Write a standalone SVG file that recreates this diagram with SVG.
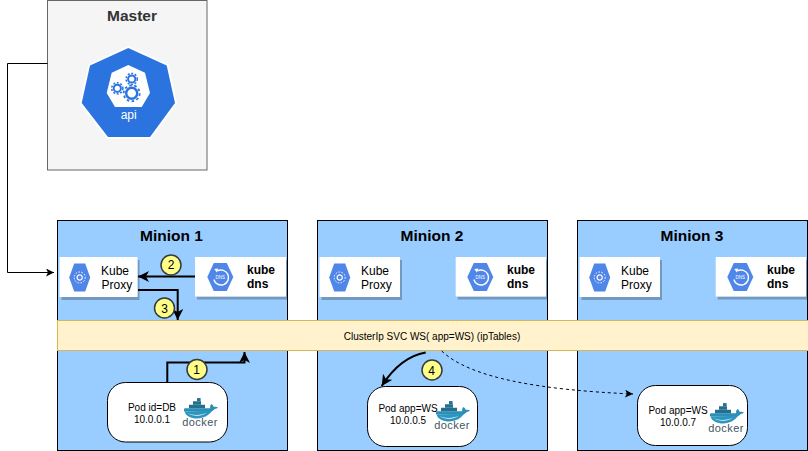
<svg xmlns="http://www.w3.org/2000/svg" width="808" height="451" viewBox="0 0 808 451">
<style>
text{font-family:"Liberation Sans",Arial,sans-serif;fill:#000;text-anchor:middle}
.minion{fill:#99ccff;stroke:#000;stroke-width:1}
.title{font-size:15.5px;font-weight:bold}
.card{fill:#fff;filter:url(#sh)}
.lbl{font-size:12px;text-anchor:start}
.blbl{font-size:12px;font-weight:bold;text-anchor:start}
.pod{fill:#fff;stroke:#000;stroke-width:1}
.small{font-size:10px}
.hex{fill:#4f86e8}
.badge{fill:#ffff88;stroke:#36393d;stroke-width:1.5}
.badge-t{font-size:12px}
.conn{fill:none;stroke:#000}
.thick{stroke-width:2}
.dt{font-size:11px;fill:#41565f;letter-spacing:.45px}
</style>
<defs>
<filter id="sh" x="-10%" y="-10%" width="125%" height="135%"><feDropShadow dx="2" dy="3" stdDeviation="0.5" flood-color="#000" flood-opacity="0.25"/></filter>
<marker id="a" markerUnits="userSpaceOnUse" markerWidth="14" markerHeight="14" refX="11" refY="5.500" orient="auto"><path d="M0 0L11 5.500L0 11L3 5.500Z" fill="#000"/></marker>
<marker id="b" markerUnits="userSpaceOnUse" markerWidth="10" markerHeight="10" refX="8" refY="4" orient="auto"><path d="M0 0L8 4L0 8L2 4Z" fill="#000"/></marker>
<g id="hexp"><polygon class="hex" points="-10.500,0 -5.500,-14 5.500,-14 10.500,0 5.500,14 -5.500,14"/><circle r="2.600" fill="none" stroke="#fff" stroke-width="1.200"/><circle r="5.500" fill="none" stroke="#fff" stroke-width="1" stroke-dasharray="1.500 1.500"/></g>
<g id="hexd"><polygon class="hex" points="-13,0 -6.500,-14 6.500,-14 13,0 6.500,14 -6.500,14"/><path d="M-3.500 -6.500A7.500 7.500 0 1 1 -7 2" fill="none" stroke="#fff" stroke-width="1.400" transform="translate(.5 .5)"/><path d="M-6 -8L-2 -8.500L-3.500 -4.500Z" fill="#fff"/><text y="2" font-size="4.500" style="fill:#fff">DNS</text></g>
<g id="whale" transform="scale(.8 .7)">
<path d="M-16 2H17C19 2 21.500 0 22 -1.500C24 -1.500 25.500 -2.500 26 -4C24.500 -5 22.500 -5 21 -4.300C20.500 -6.500 19 -8 18 -8.500C16.500 -7 16 -4.500 16.500 -2.500H-15.500C-16.500 -1 -16.500 1 -16 2Z" fill="#2b8fb8"/>
<path d="M-15.500 2C-14 9 -7 12 0 12C9 12 15 7 19 1Z" fill="#2d96be"/>
<path d="M-12 4C-6 8 4 8 12 4C6 10 -6 10 -12 4Z" fill="#bfe3ef"/>
<rect x="-10" y="-7.500" width="20" height="5" fill="#246f8f"/>
<rect x="-5" y="-12.500" width="10" height="5" fill="#246f8f"/>
<rect x="0" y="-17" width="4.500" height="4.500" fill="#246f8f"/>
</g>
</defs>

<g id="master">
<rect x="47.500" y="0.500" width="159.500" height="169.500" fill="#f5f5f5" stroke="#666"/>
<text class="title" x="132" y="21" style="fill:#333">Master</text>
<polygon points="128.300,46 168.500,64.500 177,103.500 151,139 107,139 79.500,103.500 88.500,64.500" fill="#fff"/>
<polygon points="128.300,48 166.700,65.500 175,103 150,137 108,137 81.700,103 90,65.500" fill="#2b74e0"/>
<polygon points="128.300,65 145,72.700 150,93 141.700,107 115,107 106.700,93 111.700,72.700" fill="#fff"/>
<g fill="none" stroke="#2b74e0">
<circle cx="131.700" cy="79" r="3.600" stroke-width="2"/><circle cx="131.700" cy="79" r="5.600" stroke-width="1.500" stroke-dasharray="2 1.600"/>
<circle cx="117.300" cy="88.300" r="3.600" stroke-width="2"/><circle cx="117.300" cy="88.300" r="5.600" stroke-width="1.500" stroke-dasharray="2 1.600"/>
<circle cx="131.700" cy="93.300" r="5.500" stroke-width="2.400"/><circle cx="131.700" cy="93.300" r="8" stroke-width="1.800" stroke-dasharray="2.600 2.400"/>
</g>
<text x="128.700" y="119" font-size="12" style="fill:#fff">api</text>
</g>

<g id="minion1">
<rect class="minion" x="57.500" y="220.500" width="230" height="230"/>
<text class="title" x="171.500" y="241">Minion 1</text>
</g>
<g id="minion2">
<rect class="minion" x="317.500" y="220.500" width="230" height="230"/>
<text class="title" x="432" y="241">Minion 2</text>
</g>
<g id="minion3">
<rect class="minion" x="577.500" y="220.500" width="230" height="230"/>
<text class="title" x="692" y="241">Minion 3</text>
</g>

<g id="proxy1"><rect class="card" x="59.500" y="257" width="78" height="40"/><use href="#hexp" x="79.700" y="277.500"/><text class="lbl"><tspan x="101" y="275">Kube</tspan><tspan x="101.500" y="289">Proxy</tspan></text></g>
<g id="dns1"><rect class="card" x="195" y="257" width="91" height="39.500"/><use href="#hexd" x="220.300" y="277"/><text class="blbl"><tspan x="247" y="274">kube</tspan><tspan x="247" y="288">dns</tspan></text></g>
<g id="proxy2"><rect class="card" x="319.500" y="257" width="80.500" height="40"/><use href="#hexp" x="339.700" y="277.500"/><text class="lbl"><tspan x="361" y="275">Kube</tspan><tspan x="361" y="289">Proxy</tspan></text></g>
<g id="dns2"><rect class="card" x="455.700" y="257" width="90.300" height="39.500"/><use href="#hexd" x="480.300" y="277"/><text class="blbl"><tspan x="507" y="274">kube</tspan><tspan x="507" y="288">dns</tspan></text></g>
<g id="proxy3"><rect class="card" x="579.500" y="257" width="80.500" height="40"/><use href="#hexp" x="599.700" y="277.500"/><text class="lbl"><tspan x="621" y="275">Kube</tspan><tspan x="621" y="289">Proxy</tspan></text></g>
<g id="dns3"><rect class="card" x="715.700" y="257" width="90.300" height="39.500"/><use href="#hexd" x="740.300" y="277"/><text class="blbl"><tspan x="767" y="274">kube</tspan><tspan x="767" y="288">dns</tspan></text></g>

<g id="clusterip">
<rect x="57.500" y="320.500" width="751" height="30" fill="#fff2cc" stroke="#d6b656"/>
<text x="432" y="339.500" font-size="10">ClusterIp SVC WS( app=WS) (ipTables)</text>
</g>

<g id="pod1"><rect class="pod" x="107.500" y="382.500" width="120" height="59.500" rx="18"/><text class="small"><tspan x="152" y="411">Pod id=DB</tspan><tspan x="152" y="423">10.0.0.1</tspan></text><use href="#whale" x="197" y="410"/><text class="dt" x="200" y="426">docker</text></g>
<g id="pod2"><rect class="pod" x="367.500" y="386.500" width="110" height="60" rx="18"/><text class="small"><tspan x="408" y="412">Pod app=WS</tspan><tspan x="408" y="424">10.0.0.5</tspan></text><use href="#whale" x="449" y="413"/><text class="dt" x="452" y="429">docker</text></g>
<g id="pod3"><rect class="pod" x="637.500" y="385.500" width="110" height="60" rx="18"/><text class="small"><tspan x="678" y="414">Pod app=WS</tspan><tspan x="678" y="426">10.0.0.7</tspan></text><use href="#whale" x="723" y="415"/><text class="dt" x="726" y="431.500">docker</text></g>

<g id="connectors">
<path class="conn" d="M47.500 63.500H7.500V272.500H54" marker-end="url(#b)"/>
<path class="conn thick" d="M195 276.500H138" marker-end="url(#a)"/>
<path class="conn thick" d="M138 290H177.700V320" marker-end="url(#a)"/>
<path class="conn thick" d="M167.300 382V362.500H244.500V352" marker-end="url(#a)"/>
<path class="conn thick" d="M425.700 352.500C405 356 392 370 381.700 386" marker-end="url(#a)"/>
<path class="conn" stroke-dasharray="3 3" d="M441.700 351C470 378 540 390 633 394" marker-end="url(#b)"/>
</g>

<g id="badge1"><circle class="badge" cx="197" cy="369.500" r="10"/><text class="badge-t" x="196.500" y="374">1</text></g>
<g id="badge2"><circle class="badge" cx="171" cy="265" r="10"/><text class="badge-t" x="171" y="269">2</text></g>
<g id="badge3"><circle class="badge" cx="164.500" cy="308" r="10"/><text class="badge-t" x="164.500" y="312.500">3</text></g>
<g id="badge4"><circle class="badge" cx="432" cy="370" r="10"/><text class="badge-t" x="431.500" y="374.500">4</text></g>
</svg>
